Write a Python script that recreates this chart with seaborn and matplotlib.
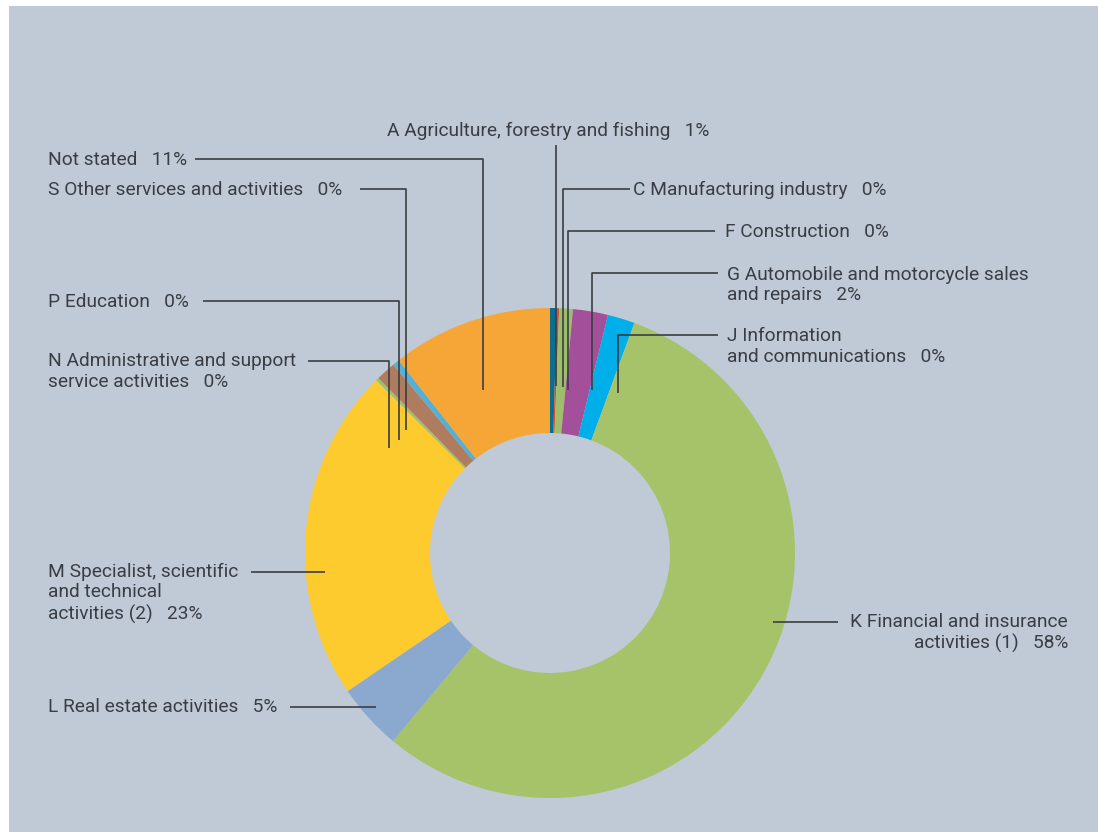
import matplotlib
matplotlib.use("Agg")
import matplotlib.pyplot as plt
from matplotlib.patches import Rectangle
import seaborn as sns

# Data (clockwise from 12 o'clock)
sectors = ["A", "C", "F", "G", "J", "K", "L", "M", "N", "P", "S", "Not stated"]
shares = [0.45, 0.15, 0.9, 2.3, 1.8, 55.5, 4.4, 22.0, 0.2, 1.3, 0.45, 10.6]
colors = ["#0b6e8e", "#d2503a", "#9dbf6a", "#a34f9a", "#00afe9", "#a6c36a",
          "#8ba8cf", "#fecb2e", "#9fbf6a", "#b07c5f", "#57afd1", "#f6a636"]
labels = [
    "A Agriculture, forestry and fishing   1%",
    "C Manufacturing industry   0%",
    "F Construction   0%",
    "G Automobile and motorcycle sales\nand repairs   2%",
    "J Information\nand communications   0%",
    "K Financial and insurance\nactivities (1)   58%",
    "L Real estate activities   5%",
    "M Specialist, scientific\nand technical\nactivities (2)   23%",
    "N Administrative and support\nservice activities   0%",
    "P Education   0%",
    "S Other services and activities   0%",
    "Not stated   11%",
]

# Layout in image pixels (y down)
W, H = 1098, 832
label_pos = [(387, 131, "left"), (633, 190, "left"), (725, 232, "left"),
             (727, 285, "left"), (727, 346.5, "left"), (1068, 633, "right"),
             (48, 707, "left"), (48, 593, "left"), (48, 371.5, "left"),
             (48, 302, "left"), (48, 190, "left"), (48, 160, "left")]
leaders = [
    [(556, 145), (556, 386)],
    [(630, 189), (563, 189), (563, 387)],
    [(715, 231), (568, 231), (568, 390)],
    [(718, 273), (592, 273), (592, 390)],
    [(718, 335), (618, 335), (618, 393)],
    [(838, 622), (773, 622)],
    [(290, 707), (376, 707)],
    [(251, 572), (325, 572)],
    [(308, 361), (389, 361), (389, 448)],
    [(203, 301), (399, 301), (399, 440)],
    [(360, 189), (406, 189), (406, 430)],
    [(195, 159), (483, 159), (483, 390)],
]
center = (550, 553)
outer_r, inner_r = 245, 120

sns.set_style("white")
plt.rcParams["font.family"] = ["Roboto", "DejaVu Sans"]

fig = plt.figure(figsize=(W / 100, H / 100), dpi=100, facecolor="white")
ax = fig.add_axes([0, 0, 1, 1])


def up(y):
    return H - y


ax.add_patch(Rectangle((9, 0), W - 9, H - 6, facecolor="#bfcad6",
                       edgecolor="none", zorder=0))

ax.pie(shares, colors=colors, startangle=90, counterclock=False,
       center=(center[0], up(center[1])), radius=outer_r,
       wedgeprops=dict(width=outer_r - inner_r, edgecolor="none", zorder=2),
       frame=True)
ax.set_xlim(0, W)
ax.set_ylim(0, H)
ax.set_aspect("equal")
ax.axis("off")

for pts in leaders:
    xs = [p[0] for p in pts]
    ys = [up(p[1]) for p in pts]
    ax.plot(xs, ys, color="#3a3e44", lw=1.2, zorder=3, solid_capstyle="butt")

for text, (x, y, ha) in zip(labels, label_pos):
    ax.text(x, up(y), text, ha=ha, va="center", multialignment=ha,
            fontsize=13.8, color="#3a3e44", linespacing=1.2, zorder=4)

fig.savefig("out.png", dpi=100, facecolor="white")
